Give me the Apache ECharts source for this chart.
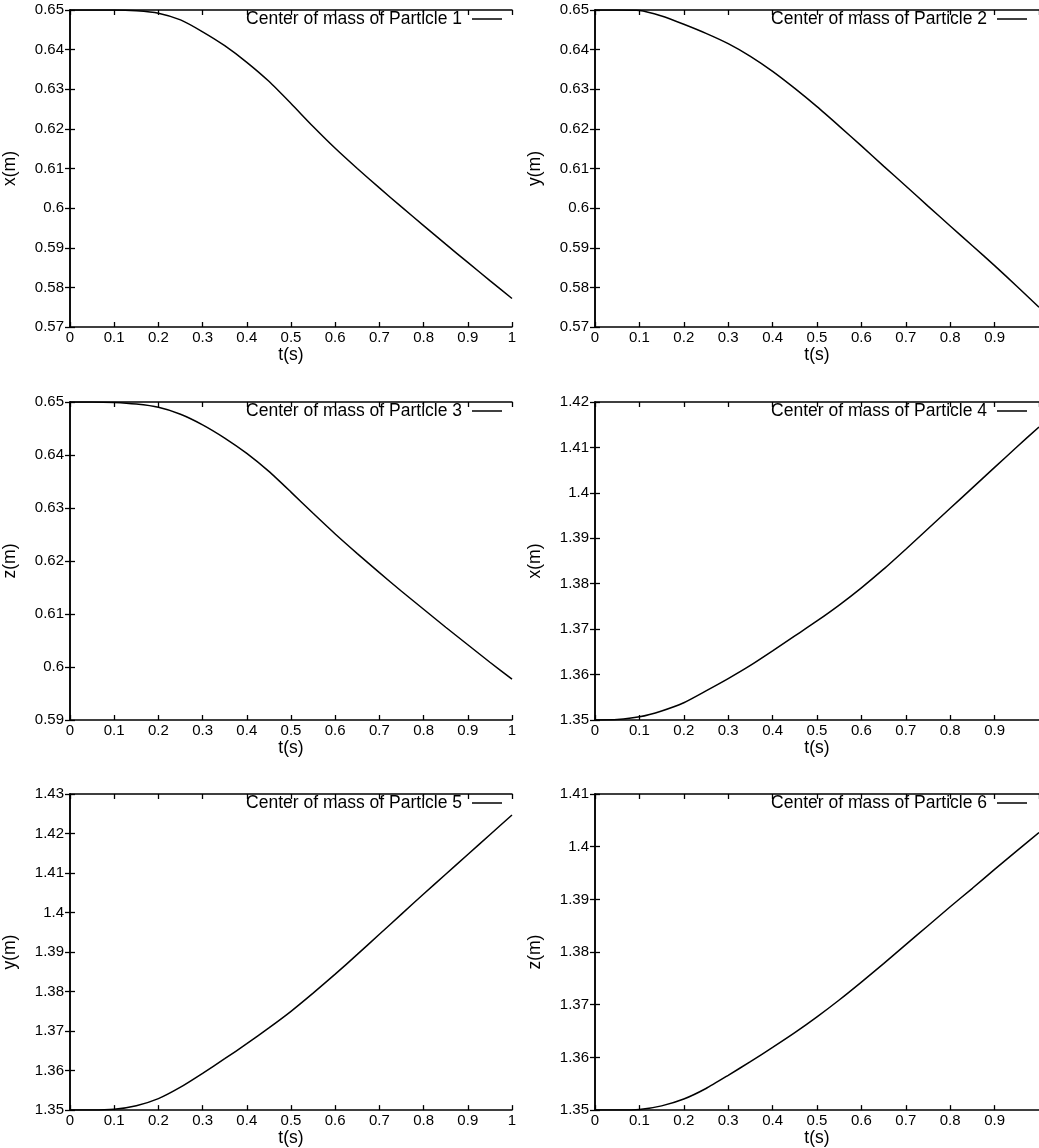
<!DOCTYPE html>
<html>
<head>
<meta charset="utf-8">
<script src="https://cdn.jsdelivr.net/npm/echarts@6/dist/echarts.min.js"></script>
<style>
  html, body { margin: 0; padding: 0; background: #fff; }
  #chart { width: 1039px; height: 1148px; }
</style>
</head>
<body>
<div id="chart"></div>
<script>
// Sample times (s)
const times = [0, 0.05, 0.1, 0.15, 0.2, 0.25, 0.3, 0.35, 0.4, 0.45, 0.5,
               0.55, 0.6, 0.65, 0.7, 0.75, 0.8, 0.85, 0.9, 0.95, 1.0];

// Centre-of-mass coordinates (m) of each particle
const particle1X = [0.65, 0.65, 0.65, 0.6498, 0.6492, 0.6475, 0.6445, 0.6410, 0.6368, 0.6320, 0.6264,
                    0.6206, 0.6151, 0.6100, 0.6051, 0.6003, 0.5956, 0.5909, 0.5863, 0.5817, 0.5772];
const particle2Y = [0.65, 0.65, 0.6499, 0.6485, 0.6464, 0.6441, 0.6415, 0.6383, 0.6345, 0.6302, 0.6256,
                    0.6207, 0.6157, 0.6106, 0.6056, 0.6005, 0.5955, 0.5905, 0.5855, 0.5803, 0.5750];
const particle3Z = [0.65, 0.65, 0.6499, 0.6496, 0.6490, 0.6477, 0.6457, 0.6432, 0.6403, 0.6369, 0.6330,
                    0.6290, 0.6251, 0.6214, 0.6178, 0.6143, 0.6109, 0.6075, 0.6042, 0.6009, 0.5977];
const particle4X = [1.35, 1.3501, 1.3507, 1.3520, 1.3538, 1.3564, 1.3591, 1.3620, 1.3652, 1.3685, 1.3718,
                    1.3753, 1.3791, 1.3832, 1.3876, 1.3921, 1.3966, 1.4011, 1.4056, 1.4101, 1.4145];
const particle5Y = [1.35, 1.35, 1.3502, 1.3511, 1.3529, 1.3558, 1.3593, 1.3630, 1.3668, 1.3708, 1.3750,
                    1.3796, 1.3844, 1.3894, 1.3945, 1.3996, 1.4047, 1.4097, 1.4147, 1.4197, 1.4247];
const particle6Z = [1.35, 1.35, 1.3501, 1.3508, 1.3521, 1.3541, 1.3566, 1.3592, 1.3619, 1.3647, 1.3677,
                    1.3709, 1.3743, 1.3778, 1.3814, 1.3850, 1.3886, 1.3921, 1.3957, 1.3992, 1.4027];

const seriesNames = ['Center of mass of Particle 1', 'Center of mass of Particle 2',
                     'Center of mass of Particle 3', 'Center of mass of Particle 4',
                     'Center of mass of Particle 5', 'Center of mass of Particle 6'];
const yNames = ['x(m)', 'y(m)', 'z(m)', 'x(m)', 'y(m)', 'z(m)'];
const yMins = [0.57, 0.57, 0.59, 1.35, 1.35, 1.35];
const yMaxs = [0.65, 0.65, 0.65, 1.42, 1.43, 1.41];
const yStep = 0.01;
const xLabel = 't(s)';

const values = [particle1X, particle2Y, particle3Z, particle4X, particle5Y, particle6Z];

const FONT = "'Liberation Sans', Arial, Helvetica, sans-serif";
const W = 1039;
const colLeft = [68, 595];
const plotW = 444;
const rowTop = [10, 402, 794];
const rowH = [317, 318, 318];

const grids = [], xAxes = [], yAxes = [], series = [], legends = [];

const lineAx = { show: true, lineStyle: { color: '#000', width: 1.5 } };
const tickIn = { show: true, inside: true, length: 5, lineStyle: { color: '#000', width: 1.3 } };

// panels laid out two per row
for (let i = 0; i < 6; i++) {
  const col = i % 2;
  const row = Math.floor(i / 2);
  const left = colLeft[col];
  const top = rowTop[row];
  grids.push({ left: left, top: top, width: plotW, height: rowH[row], containLabel: false });

  // bottom axis with labels
  xAxes.push({
    type: 'value', gridIndex: i, position: 'bottom', min: 0, max: 1, interval: 0.1,
    name: xLabel, nameLocation: 'middle', nameGap: 17,
    nameTextStyle: { fontFamily: FONT, fontSize: 17.5, color: '#000', verticalAlign: 'top' },
    axisLine: lineAx, axisTick: tickIn,
    axisLabel: { fontFamily: FONT, fontSize: 15, color: '#000', margin: 3, showMaxLabel: col === 0 },
    splitLine: { show: false }
  });
  // top mirror axis (frame + ticks)
  xAxes.push({
    type: 'value', gridIndex: i, position: 'top', min: 0, max: 1, interval: 0.1,
    axisLine: lineAx, axisTick: tickIn, axisLabel: { show: false }, splitLine: { show: false }
  });
  // left axis with labels
  yAxes.push({
    type: 'value', gridIndex: i, position: 'left', min: yMins[i], max: yMaxs[i], interval: yStep,
    name: yNames[i], nameLocation: 'middle', nameGap: 51, nameRotate: 90,
    nameTextStyle: { fontFamily: FONT, fontSize: 17.5, color: '#000' },
    axisLine: lineAx, axisTick: tickIn,
    axisLabel: { fontFamily: FONT, fontSize: 15, color: '#000', margin: 6 },
    splitLine: { show: false }
  });
  // right mirror axis
  yAxes.push({
    type: 'value', gridIndex: i, position: 'right', min: yMins[i], max: yMaxs[i], interval: yStep,
    axisLine: lineAx, axisTick: tickIn, axisLabel: { show: false }, splitLine: { show: false }
  });

  series.push({
    name: seriesNames[i], type: 'line', xAxisIndex: 2 * i, yAxisIndex: 2 * i,
    data: times.map((t, k) => [t, values[i][k]]),
    smooth: 0.2, showSymbol: false, symbol: 'none', animation: false, z: 1,
    lineStyle: { color: '#000', width: 1.5 }, itemStyle: { color: '#000' }
  });

  const legendRight = col === 0 ? W - (left + plotW) + 10 : 12;
  legends.push({
    data: [seriesNames[i]], right: legendRight, top: top, align: 'right', orient: 'horizontal',
    icon: 'rect', itemWidth: 30, itemHeight: 1.5, itemGap: 0, padding: 0, selectedMode: false, z: 1,
    textStyle: { fontFamily: FONT, fontSize: 17.5, color: '#000', lineHeight: 18, padding: [0, 5, 0, 0] }
  });
}

const chart = echarts.init(document.getElementById('chart'), null, { renderer: 'canvas' });
chart.setOption({
  backgroundColor: '#fff',
  animation: false,
  grid: grids,
  xAxis: xAxes,
  yAxis: yAxes,
  legend: legends,
  series: series
});
</script>
</body>
</html>
